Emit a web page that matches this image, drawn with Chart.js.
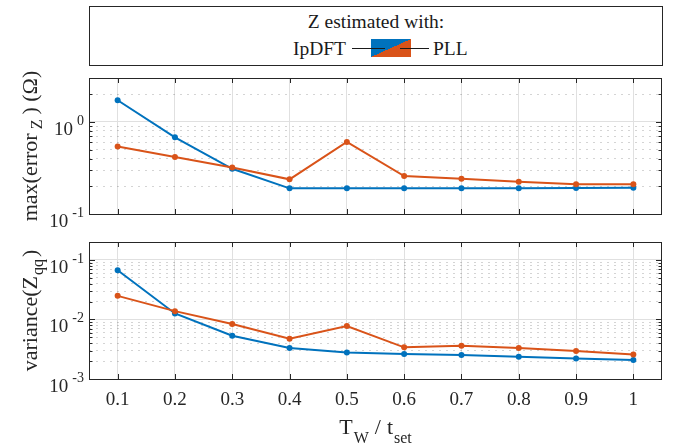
<!DOCTYPE html>
<html>
<head>
<meta charset="utf-8">
<script src="https://cdn.jsdelivr.net/npm/chart.js@4.4.1/dist/chart.umd.min.js"></script>
<style>
  html, body { margin: 0; padding: 0; background: #fff; }
  body { width: 681px; height: 448px; position: relative; overflow: hidden; color: #262626; }
  #legend { position: absolute; left: 89px; top: 6px; width: 572px; height: 58px;
            border: 1px solid #262626; }
  .lg { position: absolute; font-family: "Liberation Serif", "DejaVu Serif", serif;
        font-size: 19.5px; line-height: 19px; white-space: nowrap; color: #1a1a1a; }
  #lgTitle { left: 90px; width: 572px; top: 12px; text-align: center; }
  #lgA { right: 335px; top: 39px; }
  #lgB { left: 433px; top: 39px; }
  .stroke { position: absolute; height: 1.5px; background: #1a1a1a; top: 47.5px; }
  #patch { position: absolute; left: 371px; top: 39px; width: 40px; height: 18px;
           background: linear-gradient(to top left, #D95319 50%, #0072BD 50%); }
  canvas { position: absolute; left: 0; }
  #c1 { top: 66px; }
  #c2 { top: 228px; }
</style>
</head>
<body>
<div id="legend"></div>
<div class="lg" id="lgTitle">Z estimated with:</div>
<div class="lg" id="lgA">IpDFT</div>
<div id="patch"></div>
<div class="stroke" style="left:352px;width:33px"></div>
<div class="stroke" style="left:400px;width:29px"></div>
<div class="lg" id="lgB">PLL</div>
<canvas id="c1" width="681" height="162"></canvas>
<canvas id="c2" width="681" height="220"></canvas>
<script>
// window length relative to settling time
const tw = [0.1, 0.2, 0.3, 0.4, 0.5, 0.6, 0.7, 0.8, 0.9, 1];

// max impedance error (ohm)
const errIpdft = [1.72, 0.68, 0.31, 0.19, 0.19, 0.19, 0.19, 0.19, 0.192, 0.193];
const errPll   = [0.54, 0.415, 0.32, 0.238, 0.607, 0.258, 0.241, 0.224, 0.211, 0.211];

// variance of Z_qq
const varIpdft = [0.067, 0.0126, 0.00533, 0.00332, 0.0028, 0.00263, 0.00253, 0.00237, 0.00222, 0.00209];
const varPll   = [0.0249, 0.0138, 0.00837, 0.00475, 0.00774, 0.0034, 0.00363, 0.00332, 0.00295, 0.00257];

const errTicks = [0.1, 0.2, 0.3, 0.4, 0.5, 0.6, 0.7, 0.8, 0.9, 1, 2, 3];
const varTicks = [0.001, 0.002, 0.003, 0.004, 0.005, 0.006, 0.007, 0.008, 0.009,
                  0.01, 0.02, 0.03, 0.04, 0.05, 0.06, 0.07, 0.08, 0.09, 0.1, 0.2];

const BLUE = '#0072BD';
const ORANGE = '#D95319';
const AX = '#262626';
const FONT = '"Liberation Serif", serif';

function isDecade(v) {
  const e = Math.round(Math.log10(v));
  return Math.abs(v / Math.pow(10, e) - 1) < 1e-6;
}

// text run with sub/superscript pieces: [text, size, dy, gapAfter]
function richText(ctx, parts, cx, cy, rotate) {
  let total = 0;
  for (const p of parts) {
    ctx.font = p[1] + 'px ' + FONT;
    total += ctx.measureText(p[0]).width + (p[3] || 0);
  }
  ctx.save();
  ctx.translate(cx, cy);
  if (rotate) ctx.rotate(-Math.PI / 2);
  ctx.textAlign = 'left';
  ctx.textBaseline = 'alphabetic';
  let xx = -total / 2;
  for (const p of parts) {
    ctx.font = p[1] + 'px ' + FONT;
    ctx.fillText(p[0], xx, p[2]);
    xx += ctx.measureText(p[0]).width + (p[3] || 0);
  }
  ctx.restore();
}

// box, inner ticks, 10^n labels and axis titles
function framePlugin(yTicks, yTitle, xTitle) {
  return {
    id: 'frame',
    afterDraw(chart) {
      const { ctx, chartArea: a, scales: { x, y } } = chart;
      ctx.save();
      ctx.strokeStyle = AX;
      ctx.fillStyle = AX;
      ctx.lineWidth = 1;
      ctx.beginPath();
      for (const v of tw) {
        const px = Math.round(x.getPixelForValue(v)) + 0.5;
        ctx.moveTo(px, a.bottom); ctx.lineTo(px, a.bottom - 5);
        ctx.moveTo(px, a.top); ctx.lineTo(px, a.top + 5);
      }
      for (const v of yTicks) {
        const py = Math.round(y.getPixelForValue(v)) + 0.5;
        const len = isDecade(v) ? 6 : 3.5;
        ctx.moveTo(a.left, py); ctx.lineTo(a.left + len, py);
        ctx.moveTo(a.right, py); ctx.lineTo(a.right - len, py);
      }
      ctx.stroke();
      ctx.strokeRect(Math.round(a.left) + 0.5, Math.round(a.top) + 0.5,
                     Math.round(a.width) - 1, Math.round(a.height));

      ctx.textAlign = 'right';
      ctx.textBaseline = 'alphabetic';
      for (const v of yTicks) {
        if (!isDecade(v)) continue;
        const py = y.getPixelForValue(v);
        const ex = String(Math.round(Math.log10(v)));
        ctx.font = '14px ' + FONT;
        const ew = ctx.measureText(ex).width;
        ctx.fillText(ex, 84, py + 3);
        ctx.font = '19px ' + FONT;
        ctx.fillText('10', 84 - ew - 4, py + 13);
      }

      richText(ctx, yTitle, 37, (a.top + a.bottom) / 2, true);
      if (xTitle) richText(ctx, xTitle, (a.left + a.right) / 2, 206, false);
      ctx.restore();
    }
  };
}

function makeChart(id, yMin, yMax, yTicks, ipdft, pll, yTitle, xTitle, pad, xHeight, showX) {
  return new Chart(document.getElementById(id), {
    type: 'line',
    data: {
      datasets: [
        { label: 'IpDFT', data: tw.map((t, i) => ({ x: t, y: ipdft[i] })),
          borderColor: BLUE, backgroundColor: BLUE, borderWidth: 2,
          pointRadius: 3, pointBorderWidth: 0, order: 1 },
        { label: 'PLL', data: tw.map((t, i) => ({ x: t, y: pll[i] })),
          borderColor: ORANGE, backgroundColor: ORANGE, borderWidth: 2,
          pointRadius: 3, pointBorderWidth: 0, order: 0 }
      ]
    },
    options: {
      responsive: false,
      animation: false,
      devicePixelRatio: 1,
      layout: { padding: pad },
      plugins: { legend: { display: false }, tooltip: { enabled: false } },
      scales: {
        x: {
          type: 'linear', min: 0.05, max: 1.05,
          afterBuildTicks: s => { s.ticks = tw.map(v => ({ value: v })); },
          afterFit: s => { s.height = xHeight; },
          ticks: { display: showX, padding: 10, color: AX, maxRotation: 0,
                   font: { family: FONT, size: 19 }, callback: v => String(v) },
          grid: { color: '#e0e0e0', drawTicks: false },
          border: { display: false }
        },
        y: {
          type: 'logarithmic', min: yMin, max: yMax,
          afterBuildTicks: s => { s.ticks = yTicks.map(v => ({ value: v })); },
          afterFit: s => { s.width = 89; },
          ticks: { display: false },
          grid: {
            drawTicks: false,
            color: c => (c.tick && !isDecade(c.tick.value)) ? 'rgba(0,0,0,0.17)' : '#e0e0e0'
          },
          border: {
            display: false,
            dash: c => (c.tick && !isDecade(c.tick.value)) ? [2, 5] : []
          }
        }
      }
    },
    plugins: [framePlugin(yTicks, yTitle, xTitle)]
  });
}

makeChart('c1', 0.1, 3, errTicks, errIpdft, errPll,
  [['max(error', 22, 0, 4], ['Z', 16, 5, 5], [') (\u03A9)', 22, 0]],
  null, { left: 0, right: 19, top: 12, bottom: 14 }, 0, false);

makeChart('c2', 0.001, 0.2, varTicks, varIpdft, varPll,
  [['variance(Z', 22, 0, 1], ['qq', 16, 6, 2], [')', 22, 0]],
  [['T', 22, 0, 1], ['W', 16, 9, 6], ['/', 22, 0, 6], ['t', 22, 0, 1], ['set', 16, 9]],
  { left: 0, right: 19, top: 14, bottom: 0 }, 69, true);
</script>
</body>
</html>
